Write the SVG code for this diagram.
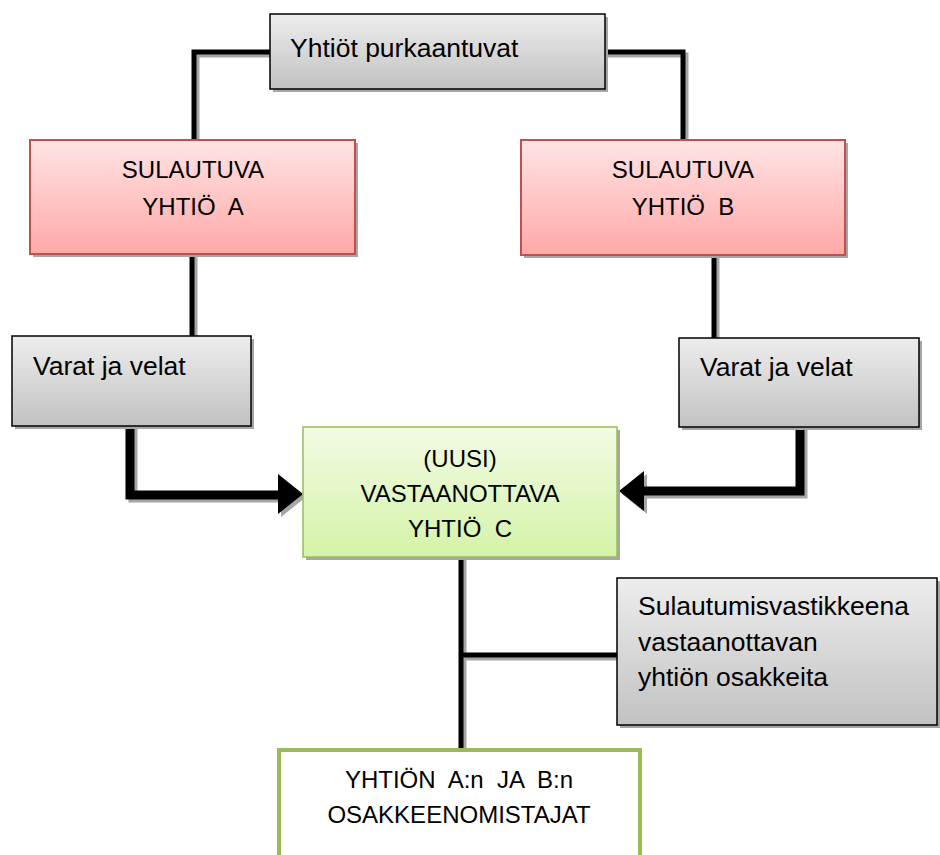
<svg xmlns="http://www.w3.org/2000/svg" width="940" height="855" viewBox="0 0 940 855">
<defs>
  <linearGradient id="gGray" x1="0" y1="0" x2="0" y2="1">
    <stop offset="0" stop-color="#EDEDED"/>
    <stop offset="1" stop-color="#C2C2C2"/>
  </linearGradient>
  <linearGradient id="gRed" x1="0" y1="0" x2="0" y2="1">
    <stop offset="0" stop-color="#FFE4E4"/>
    <stop offset="1" stop-color="#FFA8A8"/>
  </linearGradient>
  <linearGradient id="gGreen" x1="0" y1="0" x2="0" y2="1">
    <stop offset="0" stop-color="#F2FBE4"/>
    <stop offset="1" stop-color="#D4F3A8"/>
  </linearGradient>
</defs>
<style>
  .shadow { fill: #A6A6A6; }
  .gray { fill: url(#gGray); stroke: #000; stroke-width: 1.5; }
  .red { fill: url(#gRed); stroke: #C0504D; stroke-width: 2; }
  .green { fill: url(#gGreen); stroke: #9BBB59; stroke-width: 1.5; }
  .white { fill: #FFF; stroke: #9BBB59; stroke-width: 4; }
  .thin { fill: none; stroke: #000; stroke-width: 5; }
  .thinS { fill: none; stroke: #A6A6A6; stroke-width: 5; }
  .thick { fill: none; stroke: #000; stroke-width: 9; }
  .thickS { fill: none; stroke: #A6A6A6; stroke-width: 9; }
  .head { fill: #000; }
  text { font-family: "Liberation Sans", Arial, sans-serif; fill: #000; white-space: pre; }
  .lc { font-size: 26.5px; }
  .uc { font-size: 24px; text-anchor: middle; }
</style>

<g id="connectors">
  <!-- shadows -->
  <path class="thinS" d="M270,55 H197 V140"/>
  <path class="thinS" d="M605,55 H686 V140"/>
  <path class="thinS" d="M195,256 V336"/>
  <path class="thinS" d="M717,256 V338"/>
  <path class="thickS" d="M133,428 V498 H281"/>
  <path class="shadow" d="M281,477 L306,497 L281,517 Z"/>
  <path class="thickS" d="M803,429 V494 H647"/>
  <path class="shadow" d="M647,474 L622,494 L647,514 Z"/>
  <path class="thinS" d="M464,559 V748"/>
  <path class="thinS" d="M464,658 H617"/>
  <!-- lines -->
  <path class="thin" d="M270,52 H194 V140"/>
  <path class="thin" d="M605,52 H683 V140"/>
  <path class="thin" d="M192,254 V336"/>
  <path class="thin" d="M714,256 V338"/>
  <path class="thick" d="M130,426 V495 H278"/>
  <path class="head" d="M278,474 L303,494 L278,514 Z"/>
  <path class="thick" d="M800,427 V491 H644"/>
  <path class="head" d="M644,471 L619,491 L644,511 Z"/>
  <path class="thin" d="M461,557 V748"/>
  <path class="thin" d="M461,655 H617"/>
</g>

<g id="n_top">
  <rect class="shadow" x="273" y="17" width="335" height="75"/>
  <rect class="gray" x="270" y="14" width="335" height="75"/>
  <text class="lc" x="290" y="57">Yhtiöt purkaantuvat</text>
</g>

<g id="n_a">
  <rect class="shadow" x="33" y="143" width="325" height="114"/>
  <rect class="red" x="30" y="140" width="325" height="114"/>
  <text class="uc" x="193" y="178">SULAUTUVA</text>
  <text class="uc" x="193" y="215">YHTIÖ  A</text>
</g>

<g id="n_b">
  <rect class="shadow" x="524" y="143" width="324" height="115"/>
  <rect class="red" x="521" y="140" width="324" height="115"/>
  <text class="uc" x="683" y="178">SULAUTUVA</text>
  <text class="uc" x="683" y="215">YHTIÖ  B</text>
</g>

<g id="n_va">
  <rect class="shadow" x="15" y="339" width="239" height="90"/>
  <rect class="gray" x="12" y="336" width="239" height="90"/>
  <text class="lc" x="33" y="375">Varat ja velat</text>
</g>

<g id="n_vb">
  <rect class="shadow" x="682" y="341" width="240" height="89"/>
  <rect class="gray" x="679" y="338" width="240" height="89"/>
  <text class="lc" x="700" y="376">Varat ja velat</text>
</g>

<g id="n_c">
  <rect class="shadow" x="306" y="430" width="314" height="130"/>
  <rect class="green" x="303" y="427" width="314" height="130"/>
  <text class="uc" x="460" y="467">(UUSI)</text>
  <text class="uc" x="460" y="502">VASTAANOTTAVA</text>
  <text class="uc" x="460" y="537">YHTIÖ  C</text>
</g>

<g id="n_s">
  <rect class="shadow" x="620" y="581" width="320" height="147"/>
  <rect class="gray" x="617" y="578" width="320" height="147"/>
  <text class="lc" x="638" y="615">Sulautumisvastikkeena</text>
  <text class="lc" x="638" y="651">vastaanottavan</text>
  <text class="lc" x="638" y="686">yhtiön osakkeita</text>
</g>

<g id="n_o">
  <rect class="white" x="279" y="750" width="361" height="120"/>
  <text class="uc" x="459" y="788">YHTIÖN  A:n  JA  B:n</text>
  <text class="uc" x="459" y="823">OSAKKEENOMISTAJAT</text>
</g>
</svg>
